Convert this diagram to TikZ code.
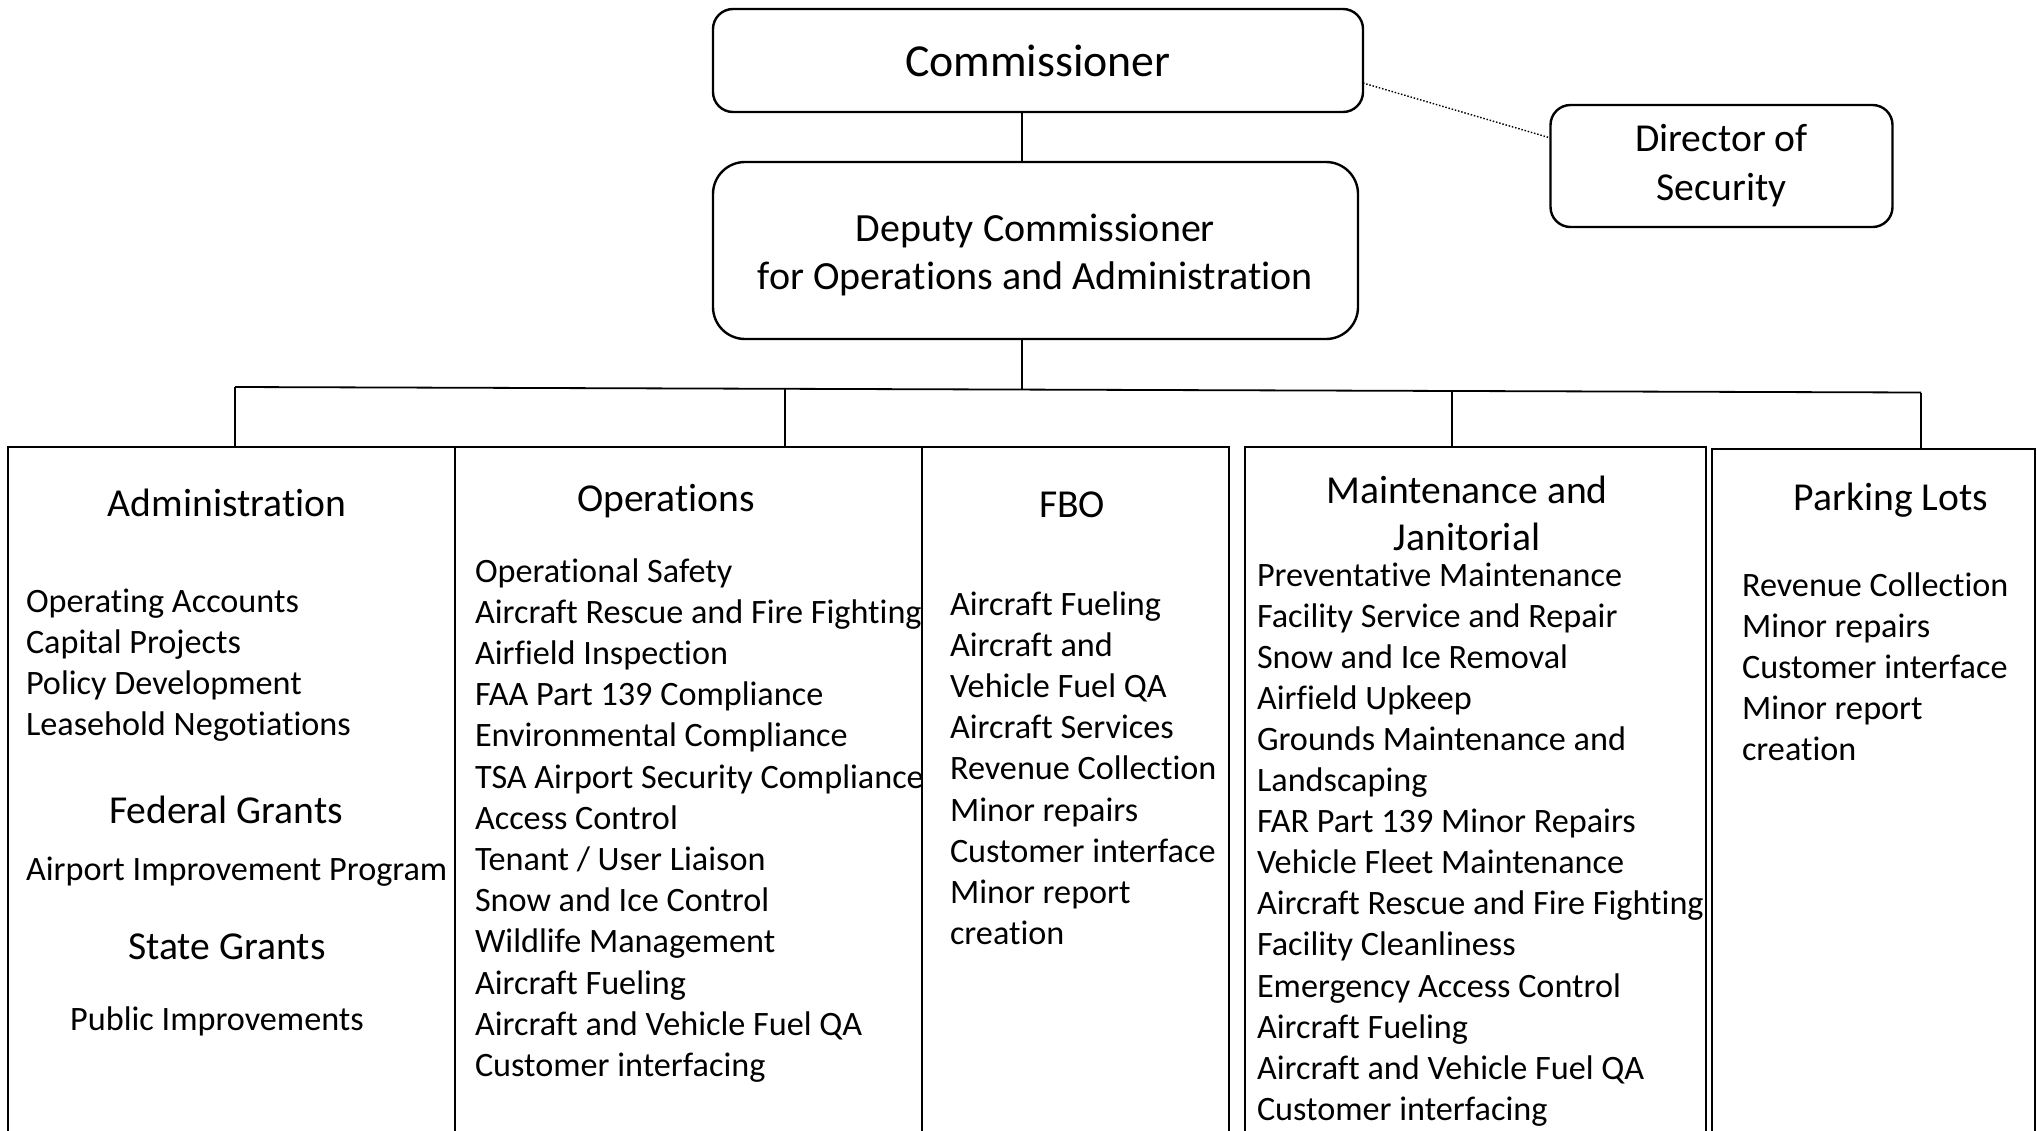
\documentclass[tikz,border=0pt]{standalone}
\usepackage{fontspec}
\setmainfont[Ligatures=NoCommon]{Carlito}
\begin{document}
\begin{tikzpicture}[x=1pt,y=-1pt,
  every node/.style={inner sep=0pt, outer sep=0pt},
  topbox/.style={draw, line width=2.4pt, rounded corners=20pt, align=center},
  colbox/.style={draw, line width=2.4pt, anchor=north west},
  link/.style={line width=1.8pt},
  title/.style={font=\fontsize{39.6}{48}\selectfont, anchor=base},
  item/.style={font=\fontsize{34.2}{41}\selectfont, anchor=base west},
]
\useasboundingbox (0,0) rectangle (2037,1130);
\clip (0,0) rectangle (2037,1130);

% top boxes
\node[topbox, minimum width=650pt, minimum height=103pt, font=\fontsize{45.8}{54}\selectfont] (comm) at (1038,60.5) {Commissioner};
\node[topbox, rounded corners=32pt, minimum width=645pt, minimum height=177pt] (deputy) at (1035.5,250.5) {};
\node[align=center, font=\fontsize{40}{48}\selectfont] (deputytxt) at ([yshift=-4pt]deputy.center) {Deputy Commissioner\\for Operations and Administration};
\node[topbox, minimum width=342pt, minimum height=122pt, font=\fontsize{39.6}{49}\selectfont] (director) at (1721.5,166) {Director of\\Security};

% column boxes
\node[colbox, minimum width=447pt, minimum height=700pt] (admin) at (8,447) {};
\node[colbox, minimum width=467pt, minimum height=700pt] (ops) at (455,447) {};
\node[colbox, minimum width=307pt, minimum height=700pt] (fbo) at (922,447) {};
\node[colbox, minimum width=461pt, minimum height=700pt] (maint) at (1245,447) {};
\node[colbox, minimum width=323pt, minimum height=700pt] (park) at (1712,449) {};

% connectors
\coordinate (cdrop) at (1022,0);
\draw[link] (comm.south -| cdrop) -- (deputy.north -| cdrop);
\coordinate (busL) at (235,387);
\coordinate (busC) at (1022,390);
\coordinate (busOps) at (785,388.6);
\coordinate (busMaint) at (1452,390.6);
\coordinate (busR) at (1921,392.5);
\draw[link] (deputy.south -| busC) -- (busC);
\draw[link] (busL) -- (busR);
\draw[link] (busL) -- (busL |- admin.north);
\draw[link] (busOps) -- (busOps |- ops.north);
\draw[link] (busMaint) -- (busMaint |- maint.north);
\draw[link] (busR) -- (busR |- park.north);
\draw[line width=1.4pt, dash pattern=on 1.5pt off 1.8pt] ([yshift=-22.5pt]comm.east) -- ([yshift=28pt]director.west);

% Administration column
\node[title] (admint) at (227,516) {Administration};
\foreach \t [count=\i from 0] in {Operating Accounts, Capital Projects, Policy Development, Leasehold Negotiations}
  \node[item] (adm\i) at (26,{612+41.2*\i}) {\t};
\node[title] (fedt) at (226,823) {Federal Grants};
\node[item] (aip) at (26,880) {Airport Improvement Program};
\node[title] (statet) at (227,959) {State Grants};
\node[item, anchor=base] (pubimp) at (217,1030) {Public Improvements};

% Operations column
\node[title] (opst) at (666,511) {Operations};
\foreach \t [count=\i from 0] in {Operational Safety, Aircraft Rescue and Fire Fighting, Airfield Inspection, FAA Part 139 Compliance, Environmental Compliance, TSA Airport Security Compliance, Access Control, Tenant / User Liaison, Snow and Ice Control, Wildlife Management, Aircraft Fueling, Aircraft and Vehicle Fuel QA, Customer interfacing}
  \node[item] (ops\i) at (475,{582+41.2*\i}) {\t};

% FBO column
\node[title] (fbot) at (1072,517) {FBO};
\foreach \t [count=\i from 0] in {Aircraft Fueling, Aircraft and, Vehicle Fuel QA, Aircraft Services, Revenue Collection, Minor repairs, Customer interface, Minor report, creation}
  \node[item] (fbo\i) at (950,{615+41.2*\i}) {\t};

% Maintenance column
\node[title] (maintta) at (1467,503) {Maintenance and};
\node[title] (minttb) at (1467,550) {Janitorial};
\foreach \t [count=\i from 0] in {Preventative Maintenance, Facility Service and Repair, Snow and Ice Removal, Airfield Upkeep, Grounds Maintenance and, Landscaping, FAR Part 139 Minor Repairs, Vehicle Fleet Maintenance, Aircraft Rescue and Fire Fighting, Facility Cleanliness, Emergency Access Control, Aircraft Fueling, Aircraft and Vehicle Fuel QA, Customer interfacing}
  \node[item] (mnt\i) at (1257,{586+41.1*\i}) {\t};

% Parking column
\node[title] (parkt) at (1891,510) {Parking Lots};
\foreach \t [count=\i from 0] in {Revenue Collection, Minor repairs, Customer interface, Minor report, creation}
  \node[item] (prk\i) at (1742,{596+41.2*\i}) {\t};
\end{tikzpicture}
\end{document}
